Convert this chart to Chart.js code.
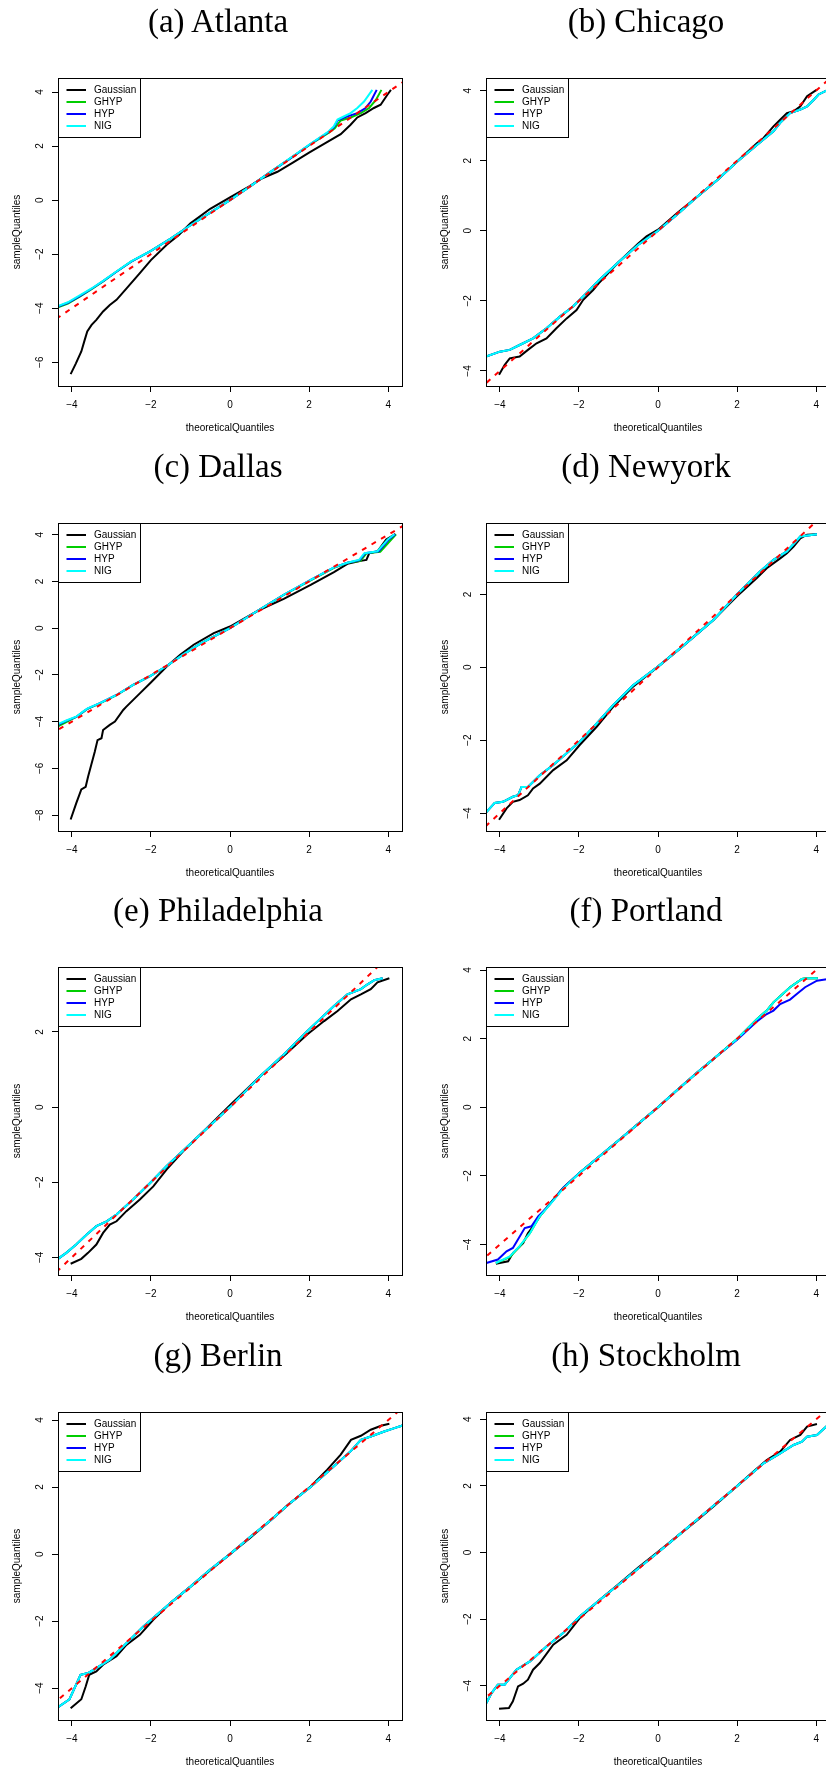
<!DOCTYPE html>
<html>
<head>
<meta charset="utf-8">
<script src="https://cdn.jsdelivr.net/npm/chart.js@4.4.0/dist/chart.umd.min.js"></script>
<style>
  html, body { margin: 0; padding: 0; width: 826px; height: 1771px; overflow: hidden; background: #fff; }
  .panel { position: absolute; width: 436px; height: 444px; }
  .panel h2 {
    position: absolute; left: 0; top: 0; width: 436px; margin: 0;
    text-align: center; font: normal 33px "Liberation Serif", serif; line-height: 43px; color: #000;
  }
  .panel canvas { position: absolute; left: 0; top: 0; }
</style>
</head>
<body>
<script>
const titles = ["(a) Atlanta", "(b) Chicago", "(c) Dallas", "(d) Newyork",
  "(e) Philadelphia", "(f) Portland", "(g) Berlin", "(h) Stockholm"];
const seriesNames = ["Gaussian", "GHYP", "HYP", "NIG"];
const seriesColors = ["#000000", "#00cd00", "#0000ff", "#00ffff"];
const xTicks = [-4, -2, 0, 2, 4];
const xRange = [-4.35, 4.35];
const refLine = [-6, 6];

// (a) Atlanta
const atlY = [-6.88, 4.52];
const atlTicks = [-6, -4, -2, 0, 2, 4];
const atlGauss = [[-4.03,-6.44],[-3.9,-6.05],[-3.76,-5.6],[-3.68,-5.2],[-3.61,-4.86],[-3.5,-4.62],[-3.38,-4.43],[-3.21,-4.12],[-3.04,-3.88],[-2.87,-3.69],[-2.61,-3.26],[-2.28,-2.7],[-2.0,-2.22],[-1.6,-1.65],[-1.3,-1.3],[-1.0,-0.86],[-0.5,-0.32],[0,0.1],[0.5,0.52],[0.8,0.8],[1.2,1.05],[1.6,1.4],[2.0,1.76],[2.4,2.1],[2.8,2.44],[3.05,2.79],[3.22,3.06],[3.43,3.22],[3.64,3.41],[3.81,3.53],[3.98,3.9],[4.07,4.08]];
const atlGhyp = [[-4.35,-3.97],[-4.1,-3.83],[-3.8,-3.57],[-3.5,-3.3],[-3.2,-3.0],[-2.9,-2.68],[-2.5,-2.28],[-2.0,-1.88],[-1.5,-1.42],[-1.0,-0.93],[-0.5,-0.46],[0,0],[0.5,0.5],[1.0,1.02],[1.5,1.52],[2.0,2.03],[2.5,2.5],[2.65,2.66],[2.8,2.95],[3.05,3.06],[3.31,3.22],[3.52,3.41],[3.69,3.71],[3.83,4.08]];
const atlHyp = [[-4.35,-3.94],[-4.1,-3.8],[-3.8,-3.55],[-3.5,-3.28],[-3.2,-2.99],[-2.9,-2.68],[-2.5,-2.28],[-2.0,-1.88],[-1.5,-1.42],[-1.0,-0.93],[-0.5,-0.46],[0,0],[0.5,0.5],[1.0,1.02],[1.5,1.52],[2.0,2.04],[2.5,2.53],[2.63,2.7],[2.72,2.95],[2.97,3.1],[3.22,3.22],[3.43,3.41],[3.56,3.65],[3.71,4.08]];
const atlNig = [[-4.35,-3.92],[-4.1,-3.78],[-3.8,-3.53],[-3.5,-3.27],[-3.2,-2.98],[-2.9,-2.67],[-2.5,-2.27],[-2.0,-1.88],[-1.5,-1.42],[-1.0,-0.93],[-0.5,-0.46],[0,0],[0.5,0.5],[1.0,1.02],[1.5,1.53],[2.0,2.05],[2.5,2.55],[2.63,2.74],[2.72,2.98],[2.8,3.04],[3.05,3.22],[3.22,3.41],[3.39,3.65],[3.6,4.08]];

// (b) Chicago
const chiY = [-4.43, 4.36];
const chiTicks = [-4, -2, 0, 2, 4];
const chiGauss = [[-4.02,-4.11],[-3.88,-3.83],[-3.75,-3.64],[-3.5,-3.59],[-3.29,-3.4],[-3.07,-3.21],[-2.82,-3.07],[-2.57,-2.78],[-2.31,-2.5],[-2.06,-2.26],[-1.89,-1.97],[-1.64,-1.69],[-1.5,-1.5],[-1.0,-0.9],[-0.5,-0.36],[-0.29,-0.16],[0,0.03],[0.5,0.52],[1.0,0.98],[1.5,1.45],[2.0,1.98],[2.5,2.5],[2.67,2.65],[2.92,2.98],[3.09,3.17],[3.26,3.36],[3.43,3.41],[3.6,3.55],[3.77,3.84],[4.02,4.03]];
const chiNig = [[-4.35,-3.59],[-4.0,-3.45],[-3.75,-3.4],[-3.5,-3.26],[-3.16,-3.07],[-2.82,-2.78],[-2.48,-2.45],[-2.15,-2.16],[-1.81,-1.78],[-1.5,-1.42],[-1.0,-0.9],[-0.5,-0.4],[0,0],[0.5,0.48],[1.0,0.98],[1.5,1.45],[2.0,1.97],[2.5,2.45],[2.92,2.84],[3.09,3.08],[3.34,3.36],[3.6,3.46],[3.77,3.55],[3.94,3.74],[4.06,3.89],[4.35,4.05]];
const chiGhyp = chiNig;
const chiHyp = chiNig;

// (c) Dallas
const dalY = [-8.68, 4.5];
const dalTicks = [-8, -6, -4, -2, 0, 2, 4];
const dalGauss = [[-4.03,-8.19],[-3.89,-7.5],[-3.76,-6.9],[-3.65,-6.79],[-3.59,-6.36],[-3.51,-5.86],[-3.42,-5.29],[-3.35,-4.79],[-3.25,-4.71],[-3.21,-4.36],[-3.04,-4.14],[-2.91,-4.0],[-2.7,-3.5],[-2.62,-3.36],[-2.28,-2.79],[-2.02,-2.36],[-1.6,-1.64],[-1.26,-1.14],[-0.92,-0.71],[-0.41,-0.21],[0,0.07],[0.5,0.55],[0.77,0.8],[1.36,1.25],[2.04,1.85],[2.63,2.4],[2.97,2.75],[3.31,2.88],[3.45,2.92],[3.52,3.2],[3.73,3.29],[3.95,3.79],[4.18,4.03]];
const dalGhyp = [[-4.35,-4.2],[-4.14,-4.02],[-3.89,-3.8],[-3.7,-3.57],[-3.6,-3.45],[-3.29,-3.22],[-2.87,-2.87],[-2.45,-2.43],[-2.02,-2.05],[-1.6,-1.62],[-1.18,-1.12],[-0.75,-0.66],[0,0],[0.77,0.82],[1.36,1.42],[2.04,2.05],[2.63,2.58],[2.97,2.8],[3.3,2.88],[3.45,3.2],[3.8,3.27],[4.2,4.02]];
const dalHyp = [[-4.35,-4.14],[-4.14,-3.97],[-3.89,-3.8],[-3.7,-3.56],[-3.6,-3.44],[-3.29,-3.21],[-2.87,-2.86],[-2.45,-2.43],[-2.02,-2.05],[-1.6,-1.62],[-1.18,-1.12],[-0.75,-0.66],[0,0],[0.77,0.82],[1.36,1.43],[2.04,2.07],[2.63,2.6],[2.97,2.8],[3.28,2.91],[3.42,3.21],[3.76,3.29],[4.02,3.8],[4.18,4.02]];
const dalNig = [[-4.35,-4.1],[-4.14,-3.95],[-3.89,-3.79],[-3.7,-3.55],[-3.6,-3.43],[-3.29,-3.21],[-2.87,-2.86],[-2.45,-2.43],[-2.02,-2.05],[-1.6,-1.62],[-1.18,-1.12],[-0.75,-0.66],[0,0],[0.77,0.82],[1.36,1.43],[2.04,2.07],[2.63,2.6],[2.97,2.8],[3.27,2.93],[3.4,3.21],[3.73,3.29],[3.99,3.79],[4.16,4.02]];

// (d) Newyork
const nyY = [-4.49, 3.96];
const nyTicks = [-4, -2, 0, 2];
const nyGauss = [[-4.02,-4.18],[-3.83,-3.87],[-3.67,-3.69],[-3.5,-3.64],[-3.29,-3.51],[-3.16,-3.32],[-2.99,-3.19],[-2.65,-2.82],[-2.31,-2.55],[-1.98,-2.13],[-1.55,-1.63],[-1.13,-1.08],[-0.63,-0.53],[0,0.02],[0.56,0.52],[1.4,1.3],[1.99,1.94],[2.5,2.45],[2.75,2.72],[3.09,2.99],[3.26,3.13],[3.43,3.31],[3.6,3.54],[3.77,3.64],[4.02,3.65]];
const nyNig = [[-4.34,-3.97],[-4.13,-3.72],[-3.92,-3.69],[-3.67,-3.55],[-3.54,-3.51],[-3.45,-3.28],[-3.29,-3.28],[-2.99,-2.96],[-2.65,-2.68],[-2.31,-2.36],[-1.98,-2.04],[-1.55,-1.54],[-1.13,-1.03],[-0.63,-0.49],[0,0.02],[0.56,0.52],[1.4,1.3],[1.99,1.99],[2.58,2.63],[2.92,2.95],[3.26,3.18],[3.6,3.59],[4.02,3.65]];
const nyGhyp = nyNig;
const nyHyp = nyNig;

// (e) Philadelphia
const phiY = [-4.47, 3.73];
const phiTicks = [-4, -2, 0, 2];
const phiGauss = [[-4.03,-4.17],[-3.76,-4.04],[-3.59,-3.88],[-3.38,-3.66],[-3.21,-3.35],[-3.04,-3.13],[-2.87,-3.04],[-2.62,-2.77],[-2.28,-2.46],[-1.94,-2.11],[-1.6,-1.66],[-1.18,-1.17],[-0.75,-0.73],[0,0.05],[0.77,0.83],[1.36,1.36],[1.96,1.94],[2.38,2.29],[2.72,2.56],[3.06,2.87],[3.31,3.0],[3.56,3.14],[3.73,3.32],[4.03,3.43]];
const phiNig = [[-4.35,-4.04],[-4.14,-3.88],[-3.89,-3.66],[-3.63,-3.4],[-3.38,-3.17],[-3.12,-3.04],[-2.87,-2.86],[-2.45,-2.46],[-2.02,-2.02],[-1.6,-1.57],[-0.75,-0.73],[0,0],[0.77,0.83],[1.36,1.4],[1.96,2.03],[2.63,2.69],[2.97,3.0],[3.31,3.14],[3.48,3.27],[3.65,3.38],[3.86,3.43]];
const phiGhyp = phiNig;
const phiHyp = phiNig;

// (f) Portland
const porY = [-4.89, 4.09];
const porTicks = [-4, -2, 0, 2, 4];
const porGauss = [[-4.1,-4.56],[-3.79,-4.49],[-3.67,-4.25],[-3.41,-3.96],[-3.29,-3.67],[-3.16,-3.47],[-2.99,-3.18],[-2.65,-2.69],[-2.4,-2.35],[-1.98,-1.91],[-1.5,-1.45],[-1.0,-0.97],[-0.5,-0.48],[0,0],[0.5,0.52],[1.0,1.02],[1.5,1.5],[2.0,1.99],[2.5,2.57],[2.75,2.82],[2.92,3.06],[3.34,3.5],[3.64,3.74],[3.77,3.76],[4.04,3.76]];
const porGhyp = [[-4.1,-4.54],[-3.75,-4.37],[-3.5,-4.06],[-3.24,-3.67],[-2.99,-3.18],[-2.65,-2.71],[-2.4,-2.36],[-1.98,-1.91],[-1.5,-1.45],[-1.0,-0.97],[-0.5,-0.48],[0,0],[0.5,0.52],[1.0,1.02],[1.5,1.5],[2.0,1.99],[2.5,2.57],[2.75,2.82],[2.92,3.06],[3.34,3.5],[3.64,3.74],[3.77,3.76],[4.04,3.76]];
const porHyp = [[-4.34,-4.54],[-4.05,-4.44],[-3.83,-4.2],[-3.67,-4.1],[-3.37,-3.52],[-3.2,-3.47],[-3.03,-3.18],[-2.74,-2.84],[-2.4,-2.35],[-1.98,-1.91],[-1.5,-1.45],[-1.0,-0.97],[-0.5,-0.48],[0,0],[0.5,0.52],[1.0,1.02],[1.5,1.5],[2.0,1.97],[2.5,2.5],[2.75,2.72],[2.92,2.82],[3.09,3.01],[3.34,3.14],[3.51,3.3],[3.72,3.5],[4.02,3.69],[4.35,3.75]];
const porNig = [[-4.1,-4.54],[-3.75,-4.35],[-3.5,-4.05],[-3.24,-3.67],[-2.99,-3.18],[-2.65,-2.72],[-2.4,-2.37],[-1.98,-1.91],[-1.5,-1.45],[-1.0,-0.97],[-0.5,-0.48],[0,0],[0.5,0.52],[1.0,1.02],[1.5,1.5],[2.0,1.99],[2.5,2.57],[2.75,2.82],[2.92,3.06],[3.34,3.5],[3.64,3.74],[3.77,3.76],[4.04,3.76]];

// (g) Berlin
const berY = [-4.95, 4.24];
const berTicks = [-4, -2, 0, 2, 4];
const berGauss = [[-4.03,-4.6],[-3.76,-4.33],[-3.65,-3.95],[-3.56,-3.6],[-3.38,-3.5],[-3.21,-3.3],[-2.87,-3.05],[-2.62,-2.71],[-2.28,-2.41],[-1.94,-1.96],[-1.5,-1.45],[-1.0,-0.97],[-0.5,-0.48],[0,0],[0.5,0.47],[1.0,0.98],[1.5,1.5],[2.04,2.02],[2.46,2.52],[2.8,2.97],[3.06,3.41],[3.31,3.53],[3.56,3.71],[3.82,3.83],[4.03,3.89]];
const berNig = [[-4.35,-4.57],[-4.06,-4.33],[-3.78,-3.6],[-3.59,-3.55],[-3.38,-3.4],[-3.04,-3.15],[-2.62,-2.66],[-2.19,-2.16],[-1.5,-1.45],[-1.0,-0.97],[-0.5,-0.46],[0,0],[0.5,0.5],[1.0,0.98],[1.5,1.5],[2.04,2.0],[2.63,2.62],[3.06,3.08],[3.31,3.41],[3.56,3.51],[3.9,3.66],[4.16,3.76],[4.37,3.84]];
const berGhyp = berNig;
const berHyp = berNig;

// (h) Stockholm
const stoY = [-5.03, 4.22];
const stoTicks = [-4, -2, 0, 2, 4];
const stoGauss = [[-4.02,-4.69],[-3.77,-4.67],[-3.67,-4.47],[-3.54,-4.02],[-3.41,-3.94],[-3.29,-3.82],[-3.16,-3.52],[-2.99,-3.32],[-2.65,-2.77],[-2.31,-2.47],[-1.98,-1.97],[-1.5,-1.45],[-1.0,-0.95],[-0.5,-0.45],[0,0.02],[0.5,0.5],[1.0,0.98],[1.5,1.48],[2.0,2.0],[2.4,2.42],[2.75,2.78],[3.09,3.03],[3.34,3.38],[3.6,3.53],[3.77,3.78],[4.02,3.86]];
const stoNig = [[-4.34,-4.52],[-4.21,-4.22],[-4.05,-3.97],[-3.88,-3.97],[-3.58,-3.52],[-3.24,-3.27],[-2.82,-2.82],[-2.4,-2.42],[-1.98,-1.92],[-1.5,-1.45],[-1.0,-0.97],[-0.5,-0.48],[0,0],[0.5,0.5],[1.0,1.0],[1.5,1.5],[1.99,1.98],[2.67,2.68],[3.09,2.98],[3.43,3.23],[3.64,3.33],[3.77,3.48],[4.02,3.53],[4.27,3.8]];
const stoGhyp = stoNig;
const stoHyp = stoNig;

const panels = [
  [atlY, atlTicks, [atlGauss, atlGhyp, atlHyp, atlNig]],
  [chiY, chiTicks, [chiGauss, chiGhyp, chiHyp, chiNig]],
  [dalY, dalTicks, [dalGauss, dalGhyp, dalHyp, dalNig]],
  [nyY, nyTicks, [nyGauss, nyGhyp, nyHyp, nyNig]],
  [phiY, phiTicks, [phiGauss, phiGhyp, phiHyp, phiNig]],
  [porY, porTicks, [porGauss, porGhyp, porHyp, porNig]],
  [berY, berTicks, [berGauss, berGhyp, berHyp, berNig]],
  [stoY, stoTicks, [stoGauss, stoGhyp, stoHyp, stoNig]]
];

const rowTops = [0, 445, 889, 1334];
const plotTop = 78;
const axisFont = { family: "Liberation Sans, Arial, sans-serif", size: 10 };
const minus = v => (v < 0 ? "\u2212" + Math.abs(v) : String(v));

// legend line samples, R style: short line with gap before text
function makeSwatch(color) {
  const c = document.createElement("canvas");
  c.width = 29; c.height = 4;
  const g = c.getContext("2d");
  g.strokeStyle = color; g.lineWidth = 2;
  g.beginPath(); g.moveTo(6.5, 2); g.lineTo(26, 2); g.stroke();
  return c;
}
const swatches = seriesColors.map(makeSwatch);

const boxPlugin = {
  id: "rbox",
  afterDraw(chart) {
    const { ctx, chartArea: a } = chart;
    ctx.save();
    ctx.strokeStyle = "#000";
    ctx.lineWidth = 1;
    ctx.strokeRect(Math.round(a.left) + 0.5, Math.round(a.top) + 0.5,
      Math.round(a.right - a.left), Math.round(a.bottom - a.top));
    const hb = chart.legend.legendHitBoxes;
    const last = hb[hb.length - 1];
    const right = Math.max(...hb.map(h => h.left + h.width)) + 4;
    ctx.strokeRect(Math.round(a.left) + 0.5, Math.round(a.top) + 0.5,
      Math.round(right - a.left), Math.round(last.top + last.height + 6 - a.top));
    ctx.restore();
  }
};

panels.forEach(([yr, yt, series], i) => {
  const div = document.createElement("div");
  div.className = "panel";
  div.style.left = (i % 2) * 428 + "px";
  div.style.top = rowTops[Math.floor(i / 2)] + "px";
  const h = document.createElement("h2");
  h.textContent = titles[i];
  const cv = document.createElement("canvas");
  cv.width = 436; cv.height = 444;
  div.appendChild(cv);
  div.appendChild(h);
  document.body.appendChild(div);

  const datasets = series.map((pts, k) => ({
    label: seriesNames[k],
    data: pts.map(p => ({ x: p[0], y: p[1] })),
    borderColor: seriesColors[k],
    backgroundColor: seriesColors[k],
    borderWidth: 2,
    pointRadius: 0,
    tension: 0,
    fill: false,
    order: 4 - k
  }));
  datasets.push({
    label: "ref",
    data: refLine.map(v => ({ x: v, y: v })),
    borderColor: "#ff0000",
    borderWidth: 2,
    borderDash: [5, 6],
    pointRadius: 0,
    fill: false,
    order: 0
  });

  new Chart(cv.getContext("2d"), {
    type: "line",
    data: { datasets },
    options: {
      responsive: false,
      animation: false,
      layout: { padding: { left: 0, top: plotTop, right: 34, bottom: 0 } },
      plugins: {
        tooltip: { enabled: false },
        legend: {
          position: "chartArea",
          align: "start",
          // empty title only pushes the entries down into the plot box
          title: { display: true, text: "", font: { size: 5, lineHeight: 1 }, padding: { top: plotTop, bottom: 0 } },
          labels: {
            usePointStyle: true,
            pointStyleWidth: 29,
            boxHeight: 10,
            padding: 2,
            color: "#000",
            font: axisFont,
            generateLabels: chart => Chart.defaults.plugins.legend.labels.generateLabels(chart)
              .filter(l => l.datasetIndex < 4)
              .sort((p, q) => p.datasetIndex - q.datasetIndex)
              .map(l => Object.assign(l, { pointStyle: swatches[l.datasetIndex] }))
          }
        }
      },
      scales: {
        x: {
          type: "linear",
          min: xRange[0], max: xRange[1],
          afterBuildTicks: s => { s.ticks = xTicks.map(v => ({ value: v })); },
          afterFit: s => { s.height = 58; },
          grid: { drawOnChartArea: false, drawTicks: true, tickLength: 6, color: "#000" },
          border: { display: false },
          ticks: { padding: 7, maxRotation: 0, autoSkip: false, color: "#000", font: axisFont, callback: minus },
          title: { display: true, text: "theoreticalQuantiles", color: "#000", font: axisFont, padding: { top: 0, bottom: 9.7 } }
        },
        y: {
          type: "linear",
          min: yr[0], max: yr[1],
          afterBuildTicks: s => { s.ticks = yt.map(v => ({ value: v })); },
          afterFit: s => { s.width = 58; },
          grid: { drawOnChartArea: false, drawTicks: true, tickLength: 6, color: "#000" },
          border: { display: false },
          ticks: { minRotation: 90, maxRotation: 90, crossAlign: "center", padding: 6, autoSkip: false, color: "#000", font: axisFont, callback: minus },
          title: { display: true, text: "sampleQuantiles", color: "#000", font: axisFont, padding: { top: 11, bottom: 0 } }
        }
      }
    },
    plugins: [boxPlugin]
  });
});
</script>
</body>
</html>
